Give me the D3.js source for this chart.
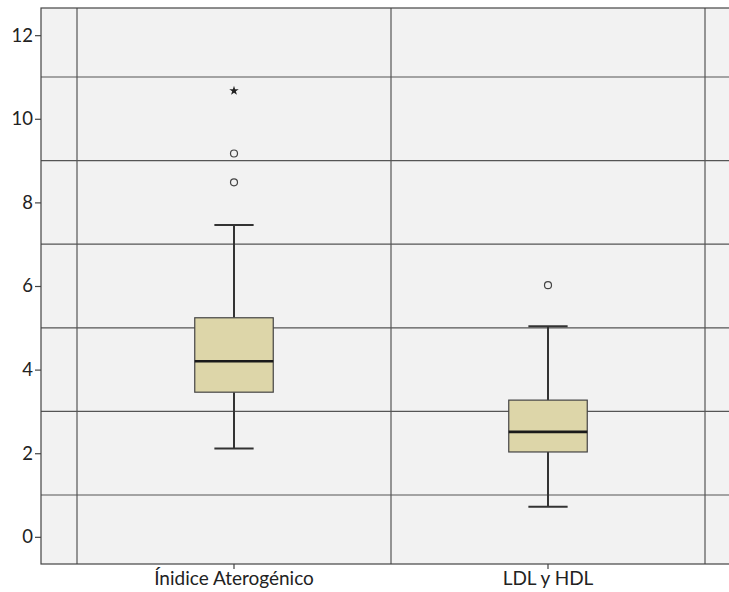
<!DOCTYPE html>
<html>
<head>
<meta charset="utf-8">
<script src="https://cdn.jsdelivr.net/npm/d3@7"></script>
<style>
  html, body { margin: 0; padding: 0; background: #ffffff; }
  svg { display: block; }
  text { font-family: Lato, "Open Sans", sans-serif; fill: #222; }
</style>
</head>
<body>
<svg id="chart" width="729" height="592"></svg>
<script>
// Box plot summaries per variable
const categories   = ["Ínidice Aterogénico", "LDL y HDL"];
const whiskerLow   = [2.11, 0.72];
const q1           = [3.46, 2.03];
const median       = [4.20, 2.51];
const q3           = [5.24, 3.27];
const whiskerHigh  = [7.46, 5.04];
// Outliers (circles) and extreme values (stars)
const outlierCat   = ["Ínidice Aterogénico", "Ínidice Aterogénico", "LDL y HDL"];
const outlierVal   = [9.17, 8.48, 6.02];
const extremeCat   = ["Ínidice Aterogénico"];
const extremeVal   = [10.67];
const yTicks       = [0, 2, 4, 6, 8, 10, 12];
const yGrid        = [1, 3, 5, 7, 9, 11];

const svg = d3.select("#chart");
const frame = { left: 41, right: 741, top: 8, bottom: 564 };

const x = d3.scaleBand().domain(categories).range([77, 705]).padding(0);
const y = d3.scaleLinear().domain([-0.65, 12.65]).range([frame.bottom, frame.top]);

const boxW = x.bandwidth() * 0.25;
const capW = boxW / 2;

// Plot background
svg.append("rect")
  .attr("x", frame.left).attr("y", frame.top)
  .attr("width", frame.right - frame.left).attr("height", frame.bottom - frame.top)
  .attr("fill", "#f2f2f2");

// Horizontal gridlines
svg.append("g").selectAll("line").data(yGrid).join("line")
  .attr("x1", frame.left).attr("x2", frame.right)
  .attr("y1", d => y(d)).attr("y2", d => y(d))
  .attr("stroke", "#555").attr("stroke-width", 1.2);

// Vertical gridlines at category boundaries
const bounds = categories.map(c => x(c)).concat([x(categories[categories.length - 1]) + x.bandwidth()]);
svg.append("g").selectAll("line").data(bounds).join("line")
  .attr("x1", d => d).attr("x2", d => d)
  .attr("y1", frame.top).attr("y2", frame.bottom)
  .attr("stroke", "#555").attr("stroke-width", 1.2);

// Frame
svg.append("rect")
  .attr("x", frame.left).attr("y", frame.top)
  .attr("width", frame.right - frame.left).attr("height", frame.bottom - frame.top)
  .attr("fill", "none").attr("stroke", "#444").attr("stroke-width", 1.2);

// Y axis
const yAxis = svg.append("g")
  .attr("transform", `translate(${frame.left},0)`)
  .call(d3.axisLeft(y).tickValues(yTicks).tickSize(6).tickPadding(2).tickFormat(d3.format("d")));
yAxis.select(".domain").remove();
yAxis.selectAll(".tick line").attr("stroke", "#444").attr("stroke-width", 1.2);
yAxis.selectAll(".tick text").style("font-size", "18.5px").style("font-family", "Lato, sans-serif").attr("fill", "#222");

// X axis
const xAxis = svg.append("g")
  .attr("transform", `translate(0,${frame.bottom})`)
  .call(d3.axisBottom(x).tickSize(5).tickPadding(3));
xAxis.select(".domain").remove();
xAxis.selectAll(".tick line").attr("stroke", "#444").attr("stroke-width", 1.2);
xAxis.selectAll(".tick text").style("font-size", "19px").style("font-family", "Lato, sans-serif").attr("fill", "#222");

// Boxes
const g = svg.append("g");
categories.forEach((c, i) => {
  const cx = x(c) + x.bandwidth() / 2;
  // whisker stems
  g.append("line").attr("x1", cx).attr("x2", cx)
    .attr("y1", y(whiskerHigh[i])).attr("y2", y(q3[i]))
    .attr("stroke", "#333").attr("stroke-width", 2);
  g.append("line").attr("x1", cx).attr("x2", cx)
    .attr("y1", y(q1[i])).attr("y2", y(whiskerLow[i]))
    .attr("stroke", "#333").attr("stroke-width", 2);
  // caps
  [whiskerHigh[i], whiskerLow[i]].forEach(v => {
    g.append("line").attr("x1", cx - capW / 2).attr("x2", cx + capW / 2)
      .attr("y1", y(v)).attr("y2", y(v))
      .attr("stroke", "#333").attr("stroke-width", 2);
  });
  // box
  g.append("rect")
    .attr("x", cx - boxW / 2).attr("width", boxW)
    .attr("y", y(q3[i])).attr("height", y(q1[i]) - y(q3[i]))
    .attr("fill", "#ddd6a9").attr("stroke", "#444").attr("stroke-width", 1.2);
  // median
  g.append("line").attr("x1", cx - boxW / 2).attr("x2", cx + boxW / 2)
    .attr("y1", y(median[i])).attr("y2", y(median[i]))
    .attr("stroke", "#1a1a1a").attr("stroke-width", 2.6);
});

// Outlier circles
g.selectAll("circle.out").data(outlierVal).join("circle")
  .attr("class", "out")
  .attr("cx", (d, i) => x(outlierCat[i]) + x.bandwidth() / 2)
  .attr("cy", d => y(d))
  .attr("r", 3.5)
  .attr("fill", "none").attr("stroke", "#444").attr("stroke-width", 1.2);

// Extreme value stars
g.selectAll("path.ext").data(extremeVal).join("path")
  .attr("class", "ext")
  .attr("transform", (d, i) => `translate(${x(extremeCat[i]) + x.bandwidth() / 2},${y(d)})`)
  .attr("d", d3.symbol().type(d3.symbolStar).size(28))
  .attr("fill", "#222");
</script>
</body>
</html>
